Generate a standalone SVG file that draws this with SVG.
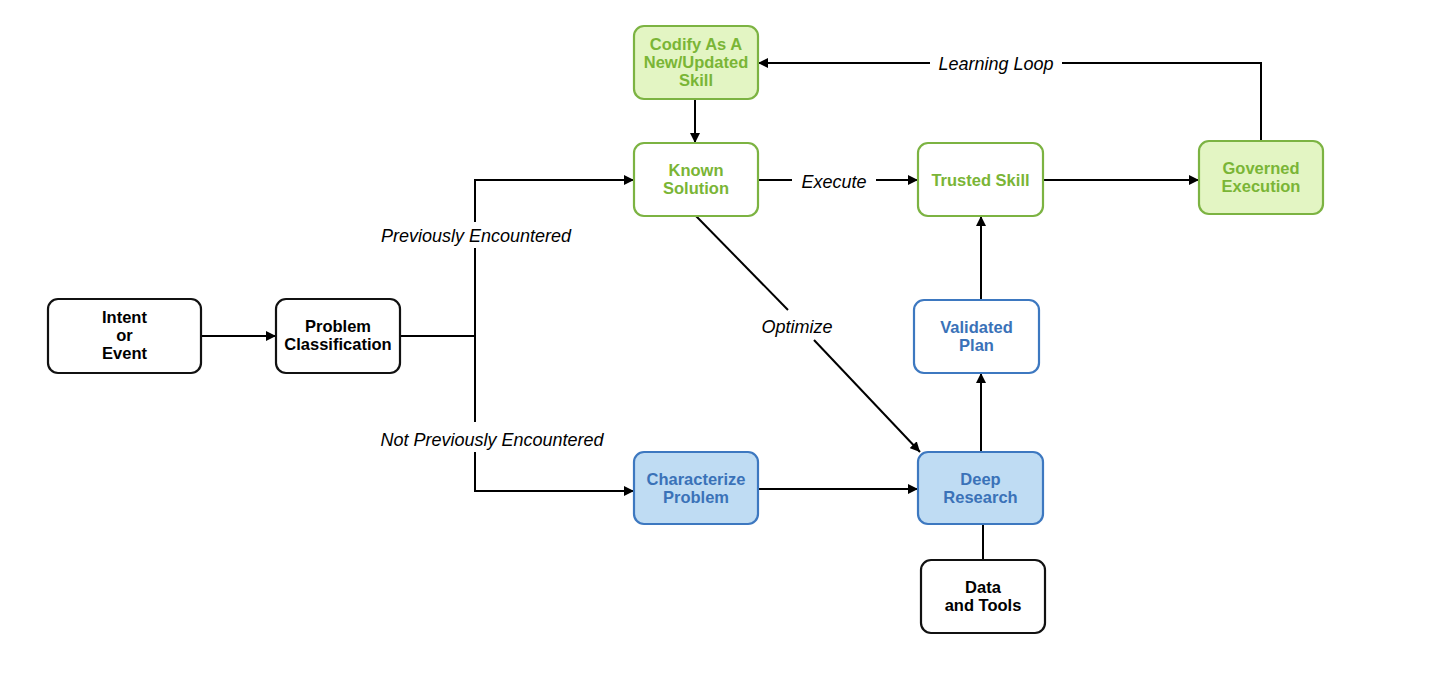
<svg xmlns="http://www.w3.org/2000/svg" width="1430" height="684" viewBox="0 0 1430 684">
<defs>
<marker id="ah" viewBox="0 0 10 10" refX="10" refY="5" markerWidth="10" markerHeight="10" markerUnits="userSpaceOnUse" orient="auto">
<path d="M0,0 L10,5 L0,10 z" fill="#000"/>
</marker>
<style>
.box{stroke-width:2.2}
.blk{fill:#fff;stroke:#111}
.gw{fill:#fff;stroke:#7cb342}
.gf{fill:#e3f5c3;stroke:#7cb342}
.bw{fill:#fff;stroke:#3d78c0}
.bf{fill:#bfdcf3;stroke:#3d78c0}
.t{font-family:"Liberation Sans",Arial,sans-serif;font-weight:bold;font-size:16.5px;text-anchor:middle}
.tk{fill:#000}
.tg{fill:#7ab536}
.tb{fill:#3a72b8}
.lbl{font-family:"Liberation Sans",Arial,sans-serif;font-style:italic;font-size:18px;text-anchor:middle;fill:#000}
.c{fill:none;stroke:#000;stroke-width:2}
</style>
</defs>
<rect width="1430" height="684" fill="#fff"/>
<g id="connectors">
<path class="c" d="M201,336 H276" marker-end="url(#ah)"/>
<path class="c" d="M400,336 H475"/>
<path class="c" d="M475,248 V422"/>
<path class="c" d="M475,222 V180 H634" marker-end="url(#ah)"/>
<path class="c" d="M475,452 V491 H634" marker-end="url(#ah)"/>
<path class="c" d="M758,180 H792"/>
<path class="c" d="M876,180 H918" marker-end="url(#ah)"/>
<path class="c" d="M1043,180 H1199" marker-end="url(#ah)"/>
<path class="c" d="M1261,141 V63 H1062"/>
<path class="c" d="M930,63 H758" marker-end="url(#ah)"/>
<path class="c" d="M695,99 V143" marker-end="url(#ah)"/>
<path class="c" d="M696,216 L788,310"/>
<path class="c" d="M814,340 L920,452" marker-end="url(#ah)"/>
<path class="c" d="M758,489 H918" marker-end="url(#ah)"/>
<path class="c" d="M981,452 V373" marker-end="url(#ah)"/>
<path class="c" d="M981,300 V216" marker-end="url(#ah)"/>
<path class="c" d="M983,524 V560"/>
<text class="lbl" x="476" y="242">Previously Encountered</text>
<text class="lbl" x="492" y="446">Not Previously Encountered</text>
<text class="lbl" x="834" y="188">Execute</text>
<text class="lbl" x="996" y="70">Learning Loop</text>
<text class="lbl" x="797" y="333">Optimize</text>
</g>
<g id="intent">
<rect class="box blk" x="48" y="299" width="153" height="74" rx="10"/>
<text class="t tk" x="124.5" y="323">Intent</text>
<text class="t tk" x="124.5" y="341">or</text>
<text class="t tk" x="124.5" y="359">Event</text>
</g>
<g id="classification">
<rect class="box blk" x="276" y="299" width="124" height="74" rx="10"/>
<text class="t tk" x="338" y="332">Problem</text>
<text class="t tk" x="338" y="350">Classification</text>
</g>
<g id="codify">
<rect class="box gf" x="634" y="26" width="124" height="73" rx="10"/>
<text class="t tg" x="696" y="50">Codify As A</text>
<text class="t tg" x="696" y="68">New/Updated</text>
<text class="t tg" x="696" y="86">Skill</text>
</g>
<g id="known">
<rect class="box gw" x="634" y="143" width="124" height="73" rx="10"/>
<text class="t tg" x="696" y="176">Known</text>
<text class="t tg" x="696" y="194">Solution</text>
</g>
<g id="trusted">
<rect class="box gw" x="918" y="143" width="125" height="73" rx="10"/>
<text class="t tg" x="980.5" y="186">Trusted Skill</text>
</g>
<g id="governed">
<rect class="box gf" x="1199" y="141" width="124" height="73" rx="10"/>
<text class="t tg" x="1261" y="174">Governed</text>
<text class="t tg" x="1261" y="192">Execution</text>
</g>
<g id="validated">
<rect class="box bw" x="914" y="300" width="125" height="73" rx="10"/>
<text class="t tb" x="976.5" y="333">Validated</text>
<text class="t tb" x="976.5" y="351">Plan</text>
</g>
<g id="characterize">
<rect class="box bf" x="634" y="452" width="124" height="72" rx="10"/>
<text class="t tb" x="696" y="485">Characterize</text>
<text class="t tb" x="696" y="503">Problem</text>
</g>
<g id="deep">
<rect class="box bf" x="918" y="452" width="125" height="72" rx="10"/>
<text class="t tb" x="980.5" y="485">Deep</text>
<text class="t tb" x="980.5" y="503">Research</text>
</g>
<g id="data">
<rect class="box blk" x="921" y="560" width="124" height="73" rx="10"/>
<text class="t tk" x="983" y="593">Data</text>
<text class="t tk" x="983" y="611">and Tools</text>
</g>
</svg>
